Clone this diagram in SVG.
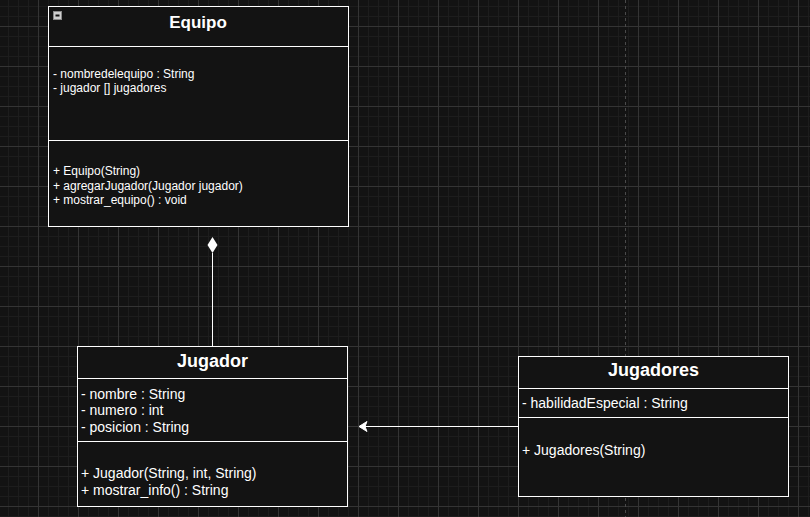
<svg xmlns="http://www.w3.org/2000/svg" width="810" height="517" viewBox="0 0 810 517">
  <defs>
    <pattern id="minor" patternUnits="userSpaceOnUse" x="8" y="6" width="10" height="10">
      <rect x="0" y="0" width="1" height="10" fill="#1d1d1d"/>
      <rect x="0" y="0" width="10" height="1" fill="#1d1d1d"/>
    </pattern>
    <pattern id="major" patternUnits="userSpaceOnUse" x="38" y="26" width="40" height="40">
      <rect x="0" y="0" width="1" height="40" fill="#343434"/>
      <rect x="0" y="0" width="40" height="1" fill="#343434"/>
    </pattern>
    <marker id="arrow" markerUnits="userSpaceOnUse" markerWidth="12" markerHeight="12" refX="11" refY="6" orient="auto" viewBox="0 0 12 12">
      <path d="M11 6 L3 1 L5 6 L3 11 Z" fill="#ffffff" stroke="#ffffff" stroke-width="1"/>
    </marker>
  </defs>
  <style>
    .box { fill: #131313; stroke: #ffffff; stroke-width: 1; }
    .sep { stroke: #ffffff; stroke-width: 1; }
    .title { font-family: "Liberation Sans", Arial, sans-serif; font-weight: bold; fill: #ffffff; text-anchor: middle; }
    .small { font-family: "Liberation Sans", Arial, sans-serif; font-size: 12px; fill: #ffffff; }
    .mid { font-family: "Liberation Sans", Arial, sans-serif; font-size: 14px; fill: #ffffff; }
    .edge { stroke: #ffffff; stroke-width: 1; fill: none; }
  </style>

  <rect x="0" y="0" width="810" height="517" fill="#131313"/>
  <rect x="0" y="0" width="810" height="517" fill="url(#minor)"/>
  <rect x="0" y="0" width="810" height="517" fill="url(#major)"/>
  <line x1="625.5" y1="0" x2="625.5" y2="517" stroke="#4a4a4a" stroke-width="1" stroke-dasharray="3 3"/>

  <g id="connectors">
    <line class="edge" x1="212.5" y1="253" x2="212.5" y2="346"/>
    <path d="M212.5 237 L217.5 245 L212.5 253 L207.5 245 Z" fill="#ffffff"/>
    <line class="edge" x1="518" y1="426.5" x2="359" y2="426.5" marker-end="url(#arrow)"/>
  </g>

  <g id="equipo">
    <rect class="box" x="48.5" y="6.5" width="300" height="220"/>
    <line class="sep" x1="48.5" y1="46.5" x2="348.5" y2="46.5"/>
    <line class="sep" x1="48.5" y1="140.5" x2="348.5" y2="140.5"/>
    <rect x="53.5" y="11.5" width="8" height="8" fill="#cfcfcf" stroke="#8a8a8a" stroke-width="1"/>
    <line x1="55.5" y1="15.5" x2="59.5" y2="15.5" stroke="#111111" stroke-width="2"/>
    <text class="title" x="198" y="27.5" font-size="17">Equipo</text>
    <text class="small" x="53" y="77.5">- nombredelequipo : String</text>
    <text class="small" x="53" y="92">- jugador [] jugadores</text>
    <text class="small" x="53" y="175">+ Equipo(String)</text>
    <text class="small" x="53" y="189.5">+ agregarJugador(Jugador jugador)</text>
    <text class="small" x="53" y="204">+ mostrar_equipo() : void</text>
  </g>

  <g id="jugador">
    <rect class="box" x="77.5" y="346.5" width="270" height="160"/>
    <line class="sep" x1="77.5" y1="378.5" x2="347.5" y2="378.5"/>
    <line class="sep" x1="77.5" y1="441.5" x2="347.5" y2="441.5"/>
    <text class="title" x="212.5" y="366.5" font-size="18">Jugador</text>
    <text class="mid" x="81" y="398.5">- nombre : String</text>
    <text class="mid" x="81" y="415">- numero : int</text>
    <text class="mid" x="81" y="431.5">- posicion : String</text>
    <text class="mid" x="81" y="477.5">+ Jugador(String, int, String)</text>
    <text class="mid" x="81" y="494.5">+ mostrar_info() : String</text>
  </g>

  <g id="jugadores">
    <rect class="box" x="518.5" y="356.5" width="270" height="140"/>
    <line class="sep" x1="518.5" y1="388.5" x2="788.5" y2="388.5"/>
    <line class="sep" x1="518.5" y1="417.5" x2="788.5" y2="417.5"/>
    <text class="title" x="653.5" y="376" font-size="18">Jugadores</text>
    <text class="mid" x="522" y="407.5">- habilidadEspecial : String</text>
    <text class="mid" x="522" y="454.5">+ Jugadores(String)</text>
  </g>
</svg>
